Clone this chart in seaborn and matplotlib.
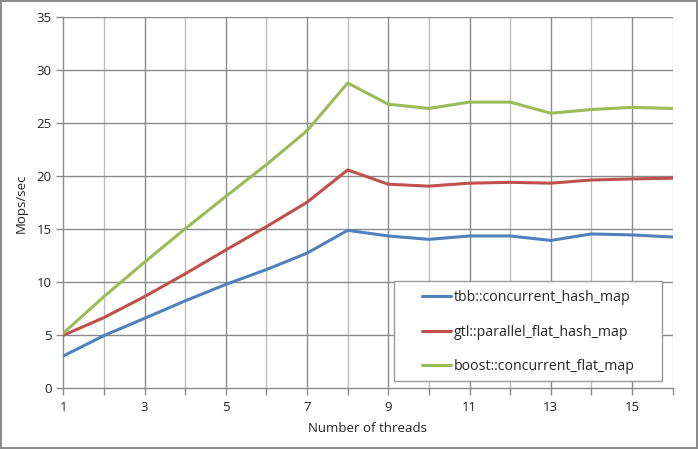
import seaborn as sns
import matplotlib.pyplot as plt
from matplotlib.patches import Rectangle
import pandas as pd

threads = list(range(1, 17))
tbb = [3.05, 4.97, 6.6, 8.25, 9.8, 11.2, 12.75, 14.9, 14.37, 14.05, 14.37, 14.37, 13.95, 14.56, 14.47, 14.27]
gtl = [5.0, 6.67, 8.65, 10.8, 13.05, 15.25, 17.55, 20.6, 19.25, 19.07, 19.35, 19.43, 19.35, 19.65, 19.75, 19.82]
boost = [5.2, 8.65, 11.9, 15.05, 18.1, 21.1, 24.3, 28.8, 26.8, 26.4, 27.0, 27.0, 25.95, 26.3, 26.5, 26.4]
names = ['tbb::concurrent_hash_map', 'gtl::parallel_flat_hash_map', 'boost::concurrent_flat_map']
colors = ['#4F81BD', '#C0504D', '#9BBB59']

df = pd.concat([
	pd.DataFrame({'threads': threads, 'mops': vals, 'map': name})
	for name, vals in zip(names, [tbb, gtl, boost])
])

sns.set_style('white')
plt.rcParams['font.family'] = ['Open Sans', 'DejaVu Sans']

fig = plt.figure(figsize=(6.98, 4.49), dpi=100)
fig.patch.set_edgecolor('#8c8c8c')
fig.patch.set_linewidth(1.5)
ax = fig.add_axes([0.0907, 0.1352, 0.873, 0.8263])

sns.lineplot(data=df, x='threads', y='mops', hue='map', palette=colors,
			 linewidth=2.2, ax=ax, zorder=3)

ax.set_xlim(1, 16)
ax.set_ylim(0, 35)
ax.set_xticks(threads)
ax.set_xticklabels([str(t) if t % 2 == 1 else '' for t in threads])
ax.set_yticks(range(0, 36, 5))

# grid: darker at odd thread counts, lighter at even
for t in threads[1:]:
	ax.axvline(t, color='#8a8a8a' if t % 2 == 1 else '#bdbdbd', lw=1, zorder=1)
for v in range(5, 36, 5):
	ax.axhline(v, color='#8a8a8a', lw=1, zorder=1)

for s in ['top', 'right']:
	ax.spines[s].set_visible(False)
for s in ['left', 'bottom']:
	ax.spines[s].set_color('#8a8a8a')
	ax.spines[s].set_linewidth(1)

ax.tick_params(axis='both', which='major', direction='out', length=5, width=1,
			   color='#8a8a8a', labelsize=9.5, labelcolor='#222222', bottom=True, left=True)
ax.tick_params(axis='x', pad=4)

ax.set_xlabel('Number of threads', fontsize=9.5, color='#222222', labelpad=6)
ax.set_ylabel('Mops/sec', fontsize=9.5, color='#222222', labelpad=6)

# legend box drawn separately so the padding matches
ax.add_patch(Rectangle((0.543, 0.0197), 0.439, 0.2695, transform=ax.transAxes,
					   facecolor='white', edgecolor='#9a9a9a', lw=1, zorder=4))
leg = ax.legend(loc='upper left', bbox_to_anchor=(0.588, 0.265),
				fontsize=10.2, frameon=False, handlelength=2.1, handletextpad=0.2,
				labelspacing=1.39, borderpad=0, borderaxespad=0)
leg.set_zorder(5)
for line in leg.get_lines():
	line.set_linewidth(2.2)

fig.savefig('out.png', dpi=100)
